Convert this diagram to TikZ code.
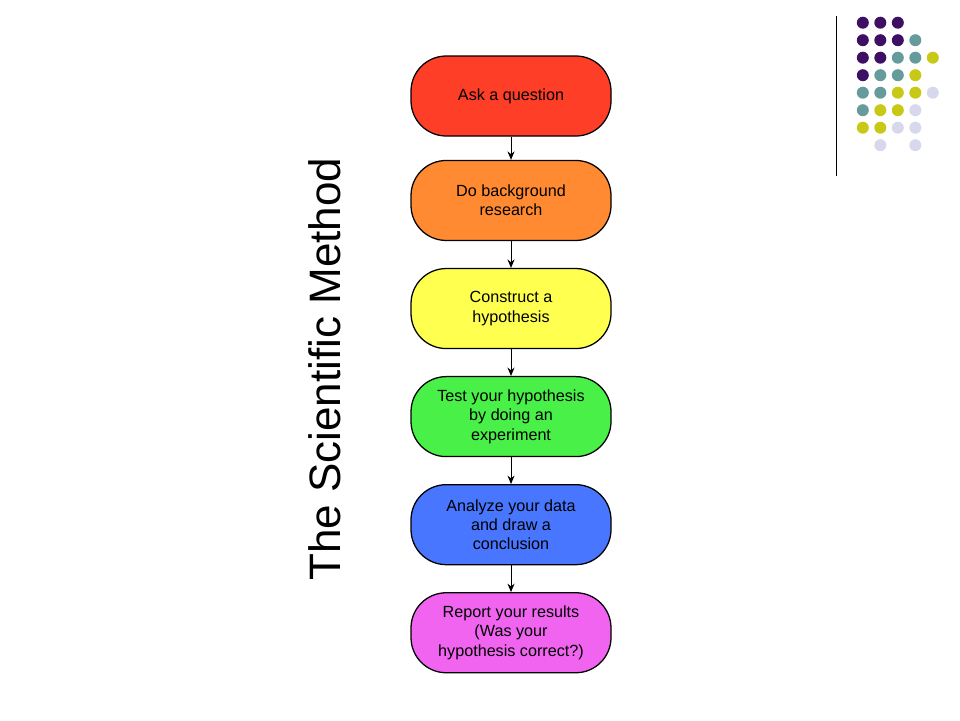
\documentclass[tikz,border=0pt]{standalone}
\usepackage{fontspec}
\setmainfont{Liberation Sans}
\usepackage{xcolor}
\usetikzlibrary{arrows.meta,positioning}
\definecolor{askred}{RGB}{255,62,40}
\definecolor{researchorange}{RGB}{255,138,50}
\definecolor{hypoyellow}{RGB}{255,255,80}
\definecolor{testgreen}{RGB}{72,240,72}
\definecolor{analyzeblue}{RGB}{72,118,255}
\definecolor{reportpink}{RGB}{240,100,240}
\definecolor{dotpurple}{RGB}{62,16,100}
\definecolor{dotteal}{RGB}{102,155,155}
\definecolor{dotyellow}{RGB}{200,200,22}
\definecolor{dotlilac}{RGB}{216,216,236}

\begin{document}
\begin{tikzpicture}[
	node distance=0.67cm,
	stage/.style = {shape=rectangle, rounded corners=0.88cm,
	draw, line width=0.9pt, align=center,
	minimum width=5cm, minimum height=2cm, inner sep=0pt,
	font=\fontsize{11.5}{13.7}\selectfont},
	flow/.style={-{Stealth[length=6pt,width=5pt]}, line width=0.7pt}
]
\useasboundingbox (0,0) rectangle (24,-18);

% title
\node[rotate=90, font=\fontsize{31.3}{36}\selectfont] (title) at (8.125,-9.23) {The Scientific Method};

% steps
\node[stage, fill=askred] (ask) at (12.775,-2.4) {Ask a question};
\node[stage, fill=researchorange, below=0.58cm of ask] (research) {Do background\\research};
\node[stage, fill=hypoyellow, below=of research] (hypothesis) {Construct a\\hypothesis};
\node[stage, fill=testgreen, below=of hypothesis] (experiment) {Test your hypothesis\\by doing an\\experiment};
\node[stage, fill=analyzeblue, below=of experiment] (analyze) {Analyze your data\\and draw a\\conclusion};
\node[stage, fill=reportpink, below=of analyze] (report) {Report your results\\(Was your\\hypothesis correct?)};

\draw[flow] (ask) -- (research);
\draw[flow] (research) -- (hypothesis);
\draw[flow] (hypothesis) -- (experiment);
\draw[flow] (experiment) -- (analyze);
\draw[flow] (analyze) -- (report);

% corner decoration
\draw[line width=0.7pt] (20.92,-0.4) -- (20.92,-4.4);
\foreach \c/\r/\col in {0/0/dotpurple, 1/0/dotpurple, 2/0/dotpurple,
	0/1/dotpurple, 1/1/dotpurple, 2/1/dotpurple, 3/1/dotteal,
	0/2/dotpurple, 1/2/dotpurple, 2/2/dotteal, 3/2/dotteal, 4/2/dotyellow,
	0/3/dotpurple, 1/3/dotteal, 2/3/dotteal, 3/3/dotyellow,
	0/4/dotteal, 1/4/dotteal, 2/4/dotyellow, 3/4/dotyellow, 4/4/dotlilac,
	0/5/dotteal, 1/5/dotyellow, 2/5/dotyellow, 3/5/dotlilac,
	0/6/dotyellow, 1/6/dotyellow, 2/6/dotlilac, 3/6/dotlilac,
	1/7/dotlilac, 3/7/dotlilac}
	\fill[\col] (21.57+0.4375*\c, -0.5675-0.4375*\r) circle (0.15);
\end{tikzpicture}
\end{document}
